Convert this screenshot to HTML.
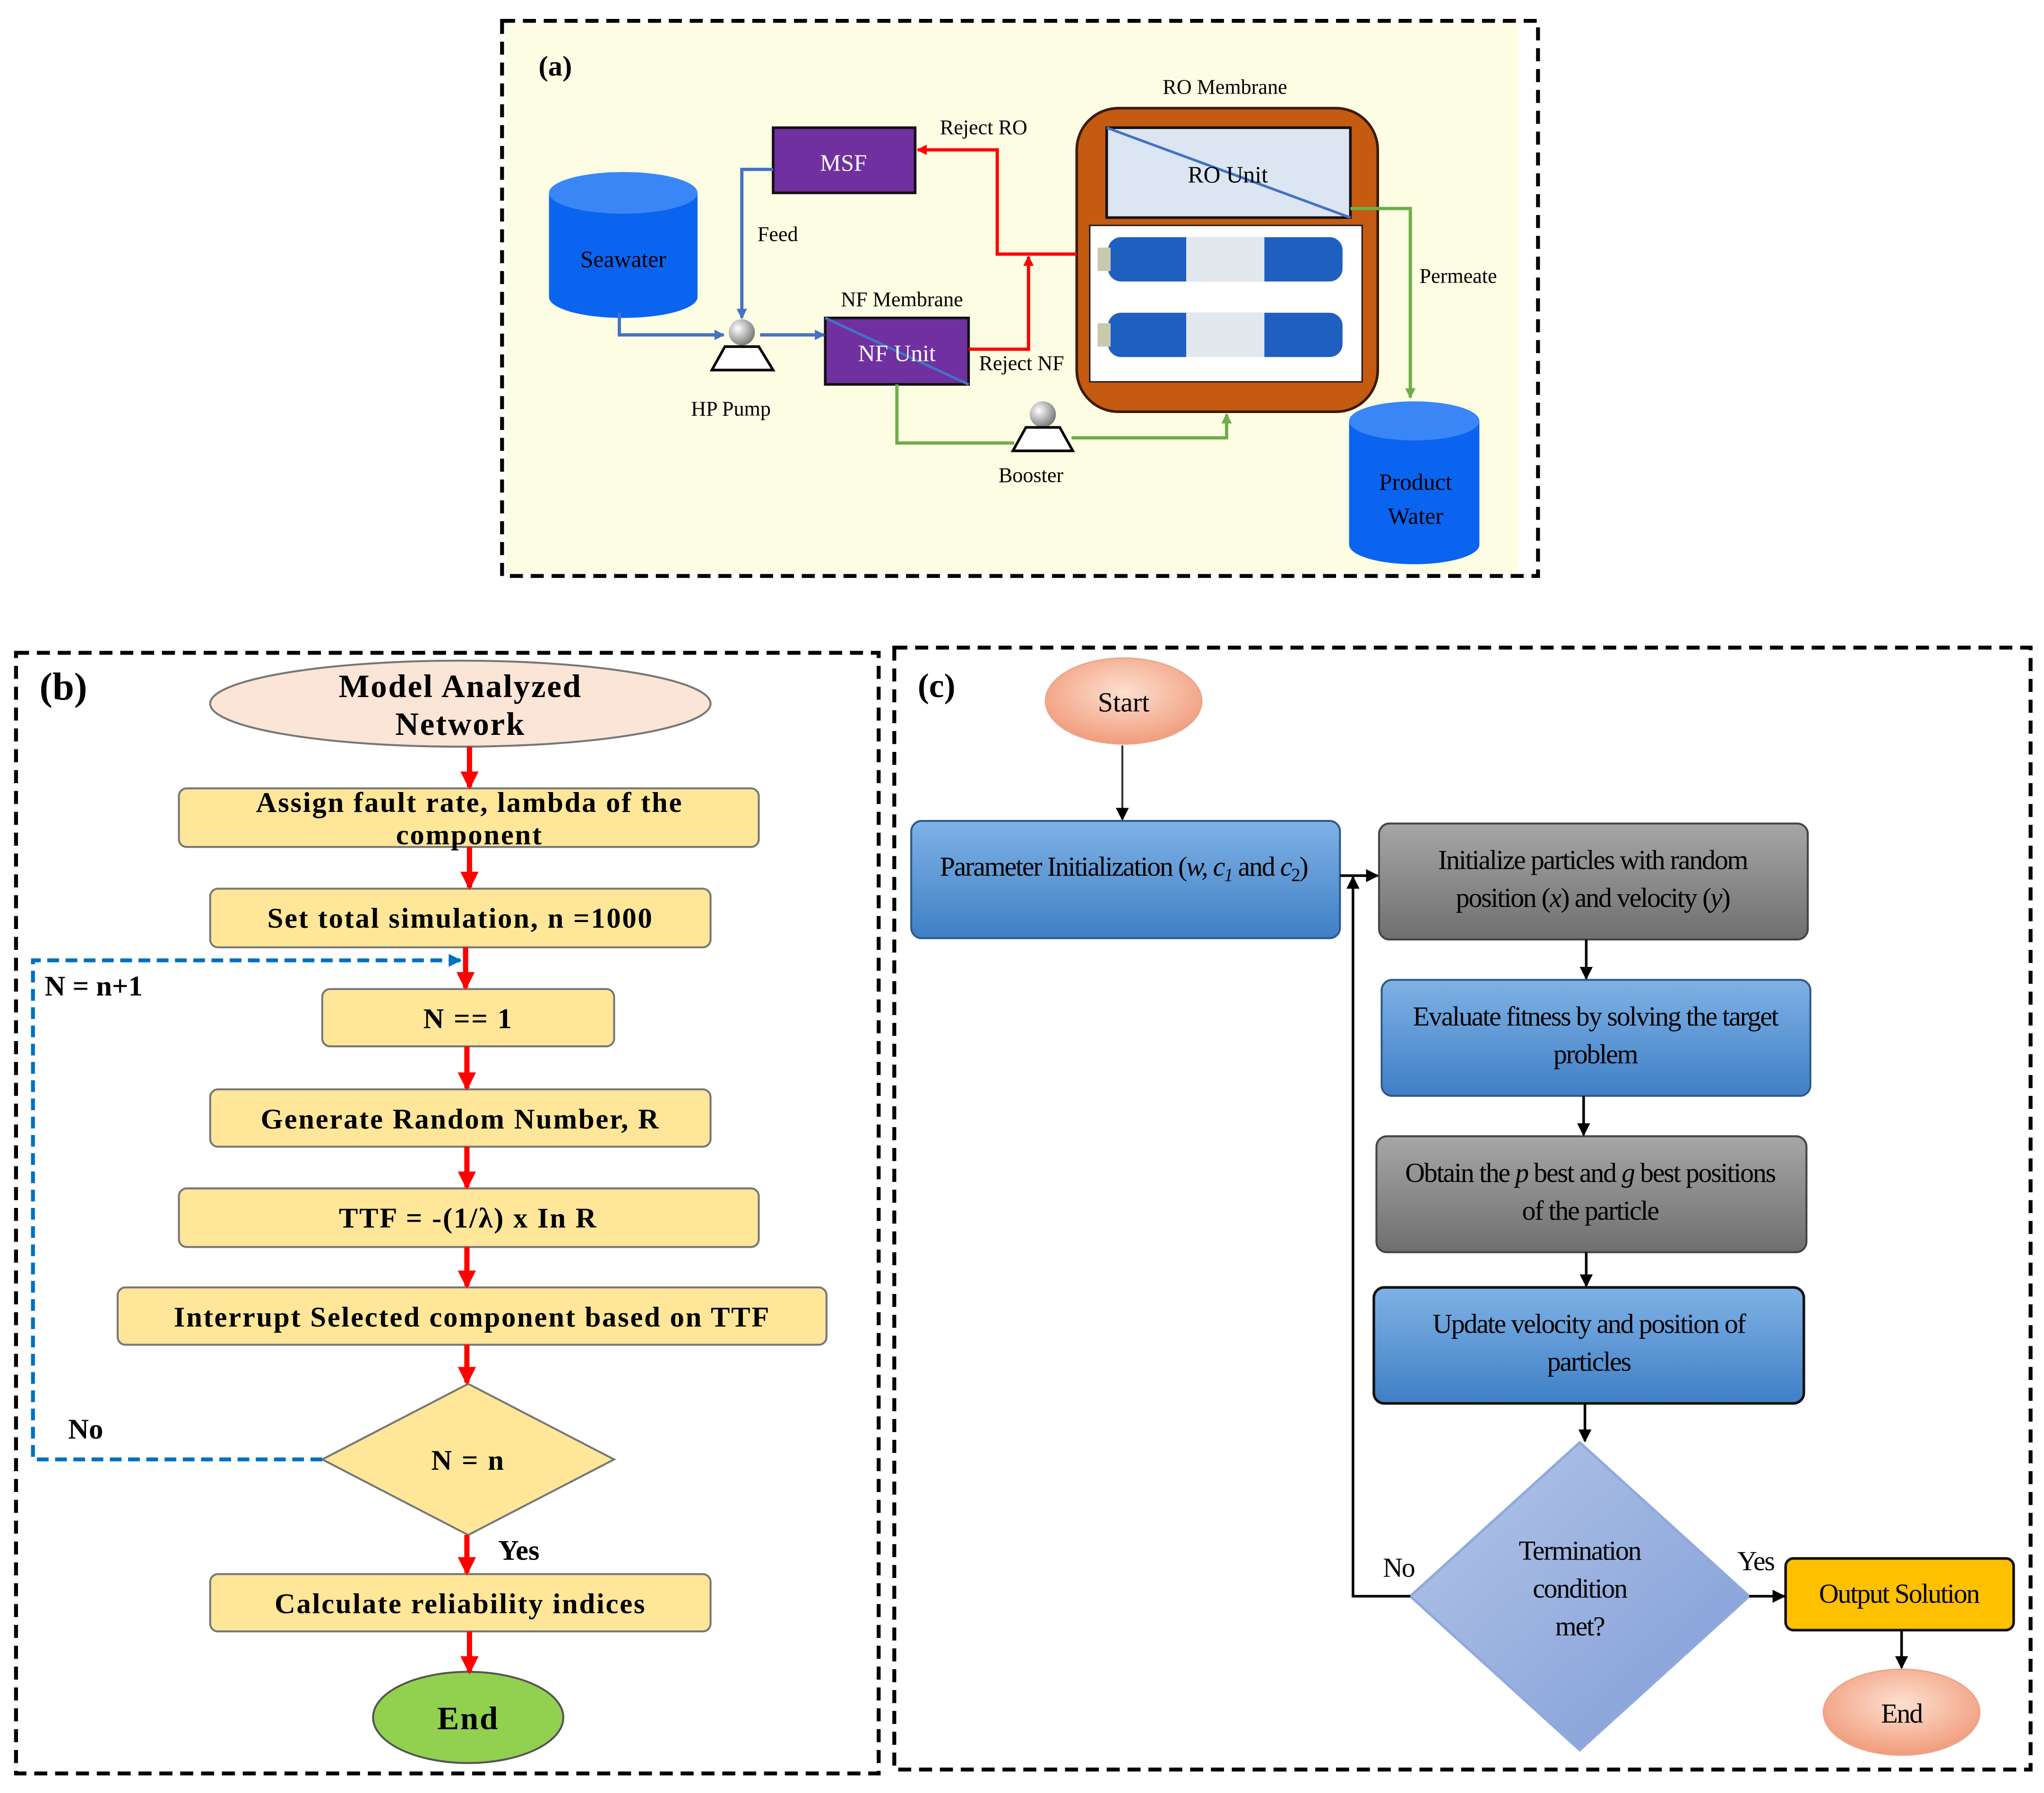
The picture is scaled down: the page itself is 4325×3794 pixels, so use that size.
<!DOCTYPE html>
<html><head><meta charset="utf-8"><style>html,body{margin:0;padding:0;background:#fff}svg{display:block}</style></head><body>
<svg xmlns="http://www.w3.org/2000/svg" width="4325" height="3794" viewBox="0 0 1568 1376" font-family="'Liberation Serif', serif">
<defs>
<marker id="ab" markerWidth="8" markerHeight="8" refX="7" refY="4" orient="auto" markerUnits="userSpaceOnUse"><path d="M0,0 L8,4 L0,8z" fill="#4472c4"/></marker>
<marker id="ar" markerWidth="8" markerHeight="8" refX="7" refY="4" orient="auto" markerUnits="userSpaceOnUse"><path d="M0,0 L8,4 L0,8z" fill="#ff0000"/></marker>
<marker id="ag" markerWidth="8" markerHeight="8" refX="7" refY="4" orient="auto" markerUnits="userSpaceOnUse"><path d="M0,0 L8,4 L0,8z" fill="#70ad47"/></marker>
<marker id="aR" markerWidth="14" markerHeight="14" refX="12" refY="7" orient="auto" markerUnits="userSpaceOnUse"><path d="M0,0 L14,7 L0,14z" fill="#ff0000"/></marker>
<marker id="ak" markerWidth="10" markerHeight="10" refX="9" refY="5" orient="auto" markerUnits="userSpaceOnUse"><path d="M0,0 L10,5 L0,10z" fill="#000"/></marker>
<marker id="aB" markerWidth="10" markerHeight="10" refX="9" refY="5" orient="auto" markerUnits="userSpaceOnUse"><path d="M0,0 L10,5 L0,10z" fill="#0070c0"/></marker>
<linearGradient id="gb" x1="0" y1="0" x2="0" y2="1"><stop offset="0" stop-color="#7fb2e5"/><stop offset="1" stop-color="#3f7fc6"/></linearGradient>
<linearGradient id="gg" x1="0" y1="0" x2="0" y2="1"><stop offset="0" stop-color="#a6a6a6"/><stop offset="1" stop-color="#6f6f6f"/></linearGradient>
<radialGradient id="gs" cx="0.5" cy="0.4" r="0.6"><stop offset="0" stop-color="#fde0d0"/><stop offset="1" stop-color="#f19c7c"/></radialGradient>
<linearGradient id="gd" x1="0" y1="0" x2="1" y2="1"><stop offset="0" stop-color="#b4c7e7"/><stop offset="1" stop-color="#7f9bd8"/></linearGradient>
<radialGradient id="sp" cx="0.35" cy="0.35" r="0.7"><stop offset="0" stop-color="#fff"/><stop offset="1" stop-color="#777"/></radialGradient>
</defs>

<rect x="388" y="18" width="777" height="422" fill="#fdfde4"/>
<rect x="385" y="16" width="795" height="426" fill="none" stroke="#000" stroke-width="3" stroke-dasharray="10,6"/>
<text x="413" y="58" font-size="22" font-weight="bold">(a)</text>

<path d="M421,148 L421,228 A57,16 0 0 0 535,228 L535,148z" fill="#0a64f0"/>
<ellipse cx="478" cy="148" rx="57" ry="16" fill="#3b86f7"/>
<text x="478" y="205" font-size="18" text-anchor="middle">Seawater</text>
<path d="M1035,323 L1035,418 A50,15 0 0 0 1135,418 L1135,323z" fill="#0a64f0"/>
<ellipse cx="1085" cy="323" rx="50" ry="15" fill="#3b86f7"/>
<text x="1086" y="376" font-size="18" text-anchor="middle">Product</text>
<text x="1086" y="402" font-size="18" text-anchor="middle">Water</text>

<rect x="593" y="98" width="109" height="50" fill="#7030a0" stroke="#111" stroke-width="2"/>
<text x="647" y="131" font-size="18" text-anchor="middle" fill="#fff">MSF</text>
<rect x="633" y="244" width="110" height="51" fill="#7030a0" stroke="#111" stroke-width="2"/>
<line x1="633" y1="244" x2="743" y2="295" stroke="#4472c4" stroke-width="2"/>
<text x="688" y="277" font-size="18" text-anchor="middle" fill="#fff">NF Unit</text>
<rect x="826" y="83" width="231" height="233" rx="32" fill="#c55a11" stroke="#3a1a05" stroke-width="2"/>
<rect x="849" y="98" width="187" height="69" fill="#dce6f2" stroke="#111" stroke-width="2"/>
<line x1="849" y1="98" x2="1036" y2="167" stroke="#4472c4" stroke-width="2"/>
<text x="942" y="140" font-size="18" text-anchor="middle">RO Unit</text>
<rect x="836" y="173" width="209" height="120" fill="#fff" stroke="#111" stroke-width="1"/>
<g>
<rect x="850" y="182" width="180" height="34" rx="10" fill="#1f5fbf"/>
<rect x="910" y="182" width="60" height="34" fill="#e3e8ee"/>
<rect x="842" y="190" width="10" height="18" fill="#c9c9b0"/>
<rect x="850" y="240" width="180" height="34" rx="10" fill="#1f5fbf"/>
<rect x="910" y="240" width="60" height="34" fill="#e3e8ee"/>
<rect x="842" y="248" width="10" height="18" fill="#c9c9b0"/>
</g>

<circle cx="569" cy="255" r="10" fill="url(#sp)"/>
<path d="M556,266 L582,266 L593,284 L546,284z" fill="#fff" stroke="#000" stroke-width="2"/>
<circle cx="800" cy="318" r="10" fill="url(#sp)"/>
<path d="M787,328 L813,328 L823,346 L777,346z" fill="#fff" stroke="#000" stroke-width="2"/>

<g fill="none" stroke-width="2.5">
<path d="M475,240 L475,257 L555,257" stroke="#4472c4" marker-end="url(#ab)"/>
<path d="M593,130 L569,130 L569,244" stroke="#4472c4" marker-end="url(#ab)"/>
<path d="M583,257 L632,257" stroke="#4472c4" marker-end="url(#ab)"/>
<path d="M826,195 L765,195 L765,115 L704,115" stroke="#ff0000" marker-end="url(#ar)"/>
<path d="M743,268 L789,268 L789,197" stroke="#ff0000" marker-end="url(#ar)"/>
<path d="M688,295 L688,340 L778,340" stroke="#70ad47"/>
<path d="M822,336 L941,336 L941,318" stroke="#70ad47" marker-end="url(#ag)"/>
<path d="M1036,160 L1082,160 L1082,305" stroke="#70ad47" marker-end="url(#ag)"/>
</g>
<g font-size="16">
<text x="721" y="103">Reject RO</text>
<text x="581" y="185">Feed</text>
<text x="645" y="235">NF Membrane</text>
<text x="751" y="284">Reject NF</text>
<text x="530" y="319">HP Pump</text>
<text x="766" y="370">Booster</text>
<text x="892" y="72">RO Membrane</text>
<text x="1089" y="217">Permeate</text>
</g>

<rect x="12" y="501" width="662" height="860" fill="none" stroke="#000" stroke-width="3" stroke-dasharray="10,6"/>
<text x="30" y="537" font-size="30" font-weight="bold">(b)</text>
<ellipse cx="353" cy="540" rx="192" ry="33" fill="#fbe5d6" stroke="#777" stroke-width="1.5"/>
<g font-weight="bold" font-size="22" text-anchor="middle" letter-spacing="1">
<text x="353" y="535" font-size="25">Model Analyzed</text>
<text x="353" y="564" font-size="25">Network</text>
<g fill="#ffe699" stroke="#777" stroke-width="1.5">
<rect x="137" y="605" width="445" height="45" rx="6"/>
<rect x="161" y="682" width="384" height="45" rx="6"/>
<rect x="247" y="759" width="224" height="44" rx="6"/>
<rect x="161" y="836" width="384" height="44" rx="6"/>
<rect x="137" y="912" width="445" height="45" rx="6"/>
<rect x="90" y="988" width="544" height="44" rx="6"/>
<path d="M359,1062 L471,1120 L359,1178 L247,1120z"/>
<rect x="161" y="1208" width="384" height="44" rx="6"/>
</g>
<ellipse cx="359" cy="1318" rx="73" ry="35" fill="#92d050" stroke="#555" stroke-width="1.5"/>
<text x="360" y="623">Assign fault rate, lambda of the</text>
<text x="360" y="648">component</text>
<text x="353" y="712">Set total simulation, n =1000</text>
<text x="359" y="789">N == 1</text>
<text x="353" y="866">Generate Random Number, R</text>
<text x="359" y="942">TTF = -(1/λ) x In R</text>
<text x="362" y="1018">Interrupt Selected component based on TTF</text>
<text x="359" y="1128">N = n</text>
<text x="353" y="1238">Calculate reliability indices</text>
<text x="359" y="1327" font-size="25">End</text>
</g>
<g stroke="#ff0000" stroke-width="4" fill="none">
<path d="M360,573 L360,604" marker-end="url(#aR)"/>
<path d="M360,650 L360,681" marker-end="url(#aR)"/>
<path d="M357,727 L357,758" marker-end="url(#aR)"/>
<path d="M358,803 L358,835" marker-end="url(#aR)"/>
<path d="M358,880 L358,911" marker-end="url(#aR)"/>
<path d="M358,957 L358,987" marker-end="url(#aR)"/>
<path d="M358,1032 L358,1061" marker-end="url(#aR)"/>
<path d="M358,1178 L358,1207" marker-end="url(#aR)"/>
<path d="M360,1252 L360,1283" marker-end="url(#aR)"/>
</g>
<path d="M247,1120 L25,1120 L25,737 L353,737" fill="none" stroke="#0070c0" stroke-width="3" stroke-dasharray="9,5" marker-end="url(#aB)"/>
<g font-weight="bold" font-size="22">
<text x="34" y="764">N = n+1</text>
<text x="52" y="1104">No</text>
<text x="382" y="1197">Yes</text>
</g>

<rect x="686" y="497" width="872" height="861" fill="none" stroke="#000" stroke-width="3" stroke-dasharray="10,6"/>
<text x="704" y="535" font-size="26" font-weight="bold">(c)</text>
<ellipse cx="862" cy="538" rx="60" ry="33" fill="url(#gs)" stroke="#e9a58a"/>
<text x="862" y="546" font-size="21" text-anchor="middle">Start</text>
<path d="M861,572 L861,629" stroke="#333" stroke-width="1.5" marker-end="url(#ak)"/>
<g stroke="#2e5a8a" stroke-width="1.5">
<rect x="699" y="630" width="329" height="90" rx="8" fill="url(#gb)"/>
<rect x="1058" y="632" width="329" height="89" rx="8" fill="url(#gg)" stroke="#444"/>
<rect x="1060" y="752" width="329" height="89" rx="8" fill="url(#gb)"/>
<rect x="1056" y="872" width="330" height="89" rx="8" fill="url(#gg)" stroke="#444"/>
<rect x="1054" y="988" width="330" height="89" rx="8" fill="url(#gb)" stroke="#111" stroke-width="2"/>
</g>
<path d="M1212,1107 L1342,1225 L1212,1343 L1082,1225z" fill="url(#gd)" stroke="#8faadc" stroke-width="2"/>
<rect x="1370" y="1196" width="175" height="55" rx="6" fill="#ffc000" stroke="#111" stroke-width="2"/>
<ellipse cx="1459" cy="1314" rx="60" ry="33" fill="url(#gs)" stroke="#e9a58a"/>
<g font-size="21" text-anchor="middle" letter-spacing="-0.8">
<text x="862" y="672">Parameter Initialization (<tspan font-style="italic">w, c</tspan><tspan font-size="14" dy="4" font-style="italic">1</tspan><tspan dy="-4"> and </tspan><tspan font-style="italic">c</tspan><tspan font-size="14" dy="4">2</tspan><tspan dy="-4">)</tspan></text>
<text x="1222" y="667">Initialize particles with random</text>
<text x="1222" y="696">position (<tspan font-style="italic">x</tspan>) and velocity (<tspan font-style="italic">y</tspan>)</text>
<text x="1224" y="787">Evaluate fitness by solving the target</text>
<text x="1224" y="816">problem</text>
<text x="1220" y="907">Obtain the <tspan font-style="italic">p</tspan> best and <tspan font-style="italic">g</tspan> best positions</text>
<text x="1220" y="936">of the particle</text>
<text x="1219" y="1023">Update velocity and position of</text>
<text x="1219" y="1052">particles</text>
<text x="1212" y="1197">Termination</text>
<text x="1212" y="1226">condition</text>
<text x="1212" y="1255">met?</text>
<text x="1457" y="1230">Output Solution</text>
<text x="1459" y="1322">End</text>
<text x="1073" y="1210">No</text>
<text x="1347" y="1205">Yes</text>
</g>
<g stroke="#000" stroke-width="2" fill="none">
<path d="M1028,672 L1057,672" marker-end="url(#ak)"/>
<path d="M1217,721 L1217,751" marker-end="url(#ak)"/>
<path d="M1215,841 L1215,871" marker-end="url(#ak)"/>
<path d="M1217,961 L1217,987" marker-end="url(#ak)"/>
<path d="M1216,1077 L1216,1106" marker-end="url(#ak)"/>
<path d="M1082,1225 L1038,1225 L1038,673" marker-end="url(#ak)"/>
<path d="M1342,1225 L1369,1225" marker-end="url(#ak)"/>
<path d="M1459,1251 L1459,1280" marker-end="url(#ak)"/>
</g>
</svg>
</body></html>
